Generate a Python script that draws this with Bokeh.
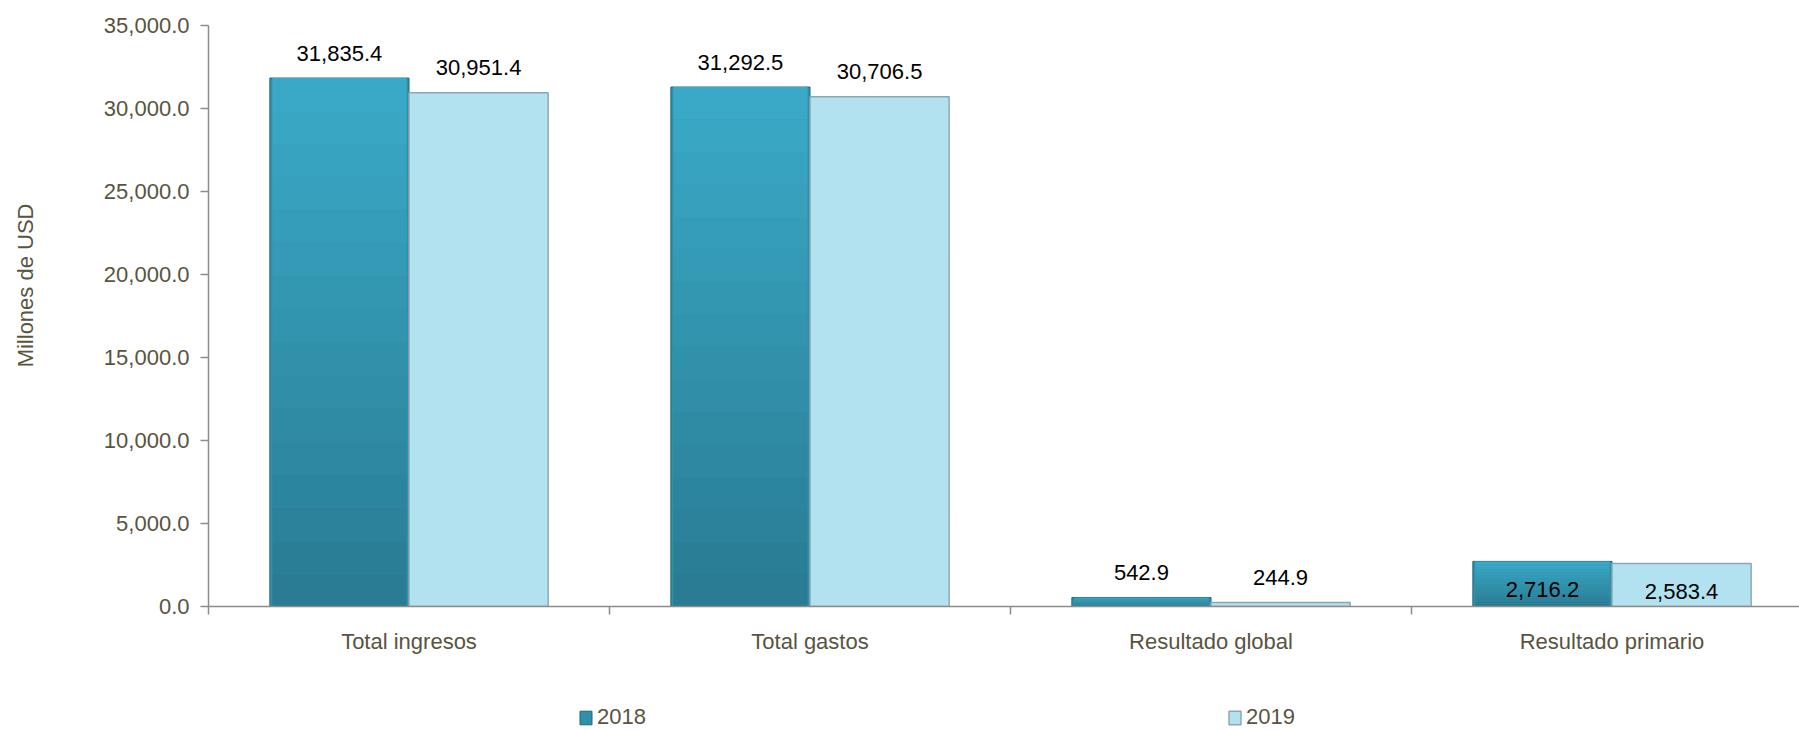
import numpy as np
from bokeh.plotting import figure
from bokeh.layouts import column
from bokeh.models import (ColumnDataSource, Range1d, FixedTicker, NumeralTickFormatter,
                          Legend, LegendItem)
from bokeh.core.properties import value
from bokeh.embed import file_html
from bokeh.resources import INLINE

categories = ["Total ingresos", "Total gastos", "Resultado global", "Resultado primario"]
series_names = ["2018", "2019"]
values_2018 = [31835.4, 31292.5, 542.9, 2716.2]
values_2019 = [30951.4, 30706.5, 244.9, 2583.4]
y_ticks = [0, 5000, 10000, 15000, 20000, 25000, 30000, 35000]
y_title = "Millones de USD"

FONT = "Liberation Sans"
FS = "22px"
OLIVE = "#595440"
AXIS_GREY = "#8C8C8C"
C18 = dict(fill_color="#2F90AB", line_color="#22677A", line_width=1)
C19 = dict(fill_color="#B2E2F0", line_color="#8FA8B0", line_width=1.5)

W = 1799
FRAME_LEFT = 208
cat_w_px = 401.0
x_end = (W - FRAME_LEFT) / cat_w_px
bar_w = 0.347

centers = np.arange(len(categories)) + 0.5
x18 = centers - bar_w / 2
x19 = centers + bar_w / 2

p = figure(width=W, height=680, output_backend="svg", toolbar_location=None,
           x_range=Range1d(0, x_end), y_range=Range1d(0, 35000),
           min_border_left=FRAME_LEFT, min_border_right=0, min_border_top=25, min_border_bottom=74)
p.outline_line_color = None
p.xgrid.visible = False
p.ygrid.visible = False

# 2018 base bars (outline)
src18 = ColumnDataSource(dict(x=x18, top=values_2018))
p.vbar(x="x", top="top", width=bar_w, bottom=0, source=src18, **C18)

# 2018 vertical gradient inside each bar (slices derived from the data values)
N = 16
c_top = np.array([0x3B, 0xAB, 0xC9])
c_bot = np.array([0x29, 0x7B, 0x92])
sx, sb, st, sc = [], [], [], []
for xi, v in zip(x18, values_2018):
    for k in range(N):
        t = (k + 0.5) / N
        c = (c_bot * (1 - t) + c_top * t).astype(int)
        sx.append(xi)
        sb.append(v * k / N)
        st.append(v * (k + 1) / N)
        sc.append("#%02x%02x%02x" % tuple(c))
p.vbar(x=sx, bottom=sb, top=st, width=bar_w - 0.012, fill_color=sc, line_color=None)

# 2019 bars
src19 = ColumnDataSource(dict(x=x19, top=values_2019))
p.vbar(x="x", top="top", width=bar_w, bottom=0, source=src19, **C19)

# data labels
def fmt(v):
    return f"{v:,.1f}"

inside = [c == "Resultado primario" for c in categories]
lab_x = list(x18) + list(x19)
lab_y = values_2018 + values_2019
lab_t = [fmt(v) for v in lab_y]
lab_off = [28 if ins else -25 for ins in inside] * 2
p.text(x=lab_x, y=lab_y, text=lab_t, y_offset=lab_off,
       text_align="center", text_baseline="middle",
       text_font=value(FONT), text_font_size=FS, text_color="black")

# y axis
ya = p.yaxis[0]
ya.ticker = FixedTicker(ticks=y_ticks)
ya.formatter = NumeralTickFormatter(format="0,0.0")
ya.major_tick_out = 8
ya.major_tick_in = 0
ya.minor_tick_out = 0
ya.minor_tick_in = 0
ya.axis_line_color = AXIS_GREY
ya.axis_line_width = 1.5
ya.major_tick_line_color = AXIS_GREY
ya.major_tick_line_width = 1.5
ya.major_label_text_font = FONT
ya.major_label_text_font_size = FS
ya.major_label_text_color = OLIVE
ya.major_label_standoff = 11
# leading no-break spaces lift the rotated title a little above the frame's middle
ya.axis_label = "\u00a0" * 10 + y_title
ya.axis_label_text_font = FONT
ya.axis_label_text_font_size = FS
ya.axis_label_text_font_style = "normal"
ya.axis_label_text_color = OLIVE
ya.axis_label_standoff = 63

# x axis
xa = p.xaxis[0]
xa.ticker = FixedTicker(ticks=list(centers), minor_ticks=list(range(len(categories) + 1)))
xa.major_label_overrides = {float(c): n for c, n in zip(centers, categories)}
xa.major_tick_out = 0
xa.major_tick_in = 0
xa.minor_tick_out = 8
xa.minor_tick_in = 0
xa.minor_tick_line_color = AXIS_GREY
xa.minor_tick_line_width = 1.5
xa.axis_line_color = AXIS_GREY
xa.axis_line_width = 1.5
xa.major_label_text_font = FONT
xa.major_label_text_font_size = FS
xa.major_label_text_color = OLIVE
xa.major_label_standoff = 14

# legend strip below the chart (legend-only renderers hold no visible data)
pl = figure(width=W, height=50, output_backend="svg", toolbar_location=None,
            x_range=Range1d(0, 1), y_range=Range1d(0, 1),
            x_axis_type=None, y_axis_type=None,
            min_border_left=FRAME_LEFT, min_border_right=0, min_border_top=0, min_border_bottom=0)
pl.outline_line_color = None
pl.xgrid.visible = False
pl.ygrid.visible = False
l18 = pl.vbar(x=[np.nan], top=[np.nan], width=0.1, **C18)
l19 = pl.vbar(x=[np.nan], top=[np.nan], width=0.1, **C19)
lg = Legend(items=[LegendItem(label=series_names[0], renderers=[l18]),
                   LegendItem(label=series_names[1], renderers=[l19])],
            location=(370, 0), orientation="horizontal", padding=0, margin=0, spacing=581,
            glyph_width=15, glyph_height=17, label_height=17, label_standoff=4,
            label_text_font=FONT, label_text_font_size=FS, label_text_color=OLIVE,
            label_text_baseline="middle",
            border_line_color=None, background_fill_alpha=0)
pl.add_layout(lg, "center")

layout = column(p, pl, spacing=0)
open("out.html", "w").write(file_html(layout, INLINE))
